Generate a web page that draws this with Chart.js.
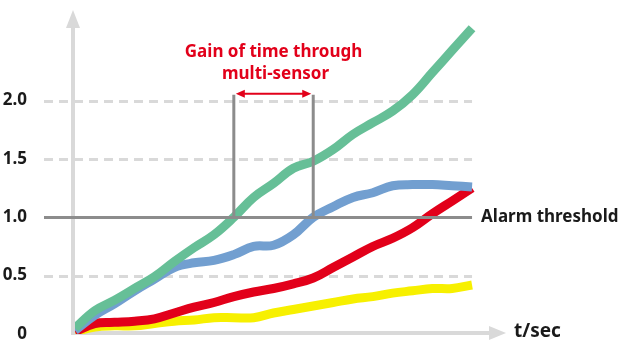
<!DOCTYPE html>
<html>
<head>
<meta charset="utf-8">
<script src="https://cdn.jsdelivr.net/npm/chart.js@4.4.1/dist/chart.umd.min.js"></script>
<style>
  html, body { margin: 0; padding: 0; background: #fff; }
  #wrap { width: 626px; height: 345px; }
</style>
</head>
<body>
<div id="wrap"><canvas id="chart"></canvas></div>
<script>
// time steps (arbitrary units along t/sec)
const times = [0, 1, 2, 3, 4, 5, 6, 7, 8, 9, 10, 11, 12, 13, 14, 15, 16, 17, 18, 19, 20];

// sensor signals
const multiSensor = [0.05, 0.20, 0.29, 0.39, 0.49, 0.62, 0.74, 0.85, 1.00, 1.17, 1.29, 1.42, 1.48, 1.58, 1.71, 1.81, 1.91, 2.05, 2.24, 2.43, 2.62];
const sensorBlue  = [0.03, 0.16, 0.26, 0.37, 0.47, 0.57, 0.61, 0.63, 0.68, 0.75, 0.76, 0.85, 1.00, 1.09, 1.17, 1.21, 1.27, 1.28, 1.28, 1.27, 1.26];
const sensorRed   = [0.02, 0.09, 0.10, 0.11, 0.13, 0.18, 0.23, 0.27, 0.32, 0.36, 0.39, 0.43, 0.48, 0.57, 0.66, 0.75, 0.82, 0.91, 1.03, 1.14, 1.25];
const sensorYellow = [0.02, 0.06, 0.07, 0.07, 0.09, 0.11, 0.12, 0.14, 0.14, 0.14, 0.18, 0.21, 0.24, 0.27, 0.30, 0.32, 0.35, 0.37, 0.39, 0.39, 0.42];

const yTicks = [0, 0.5, 1, 1.5, 2];
const yTickLabels = ['0', '0.5', '1.0', '1.5', '2.0'];

const alarmLevel = 1.0;
const alarmLabel = 'Alarm threshold';
const xAxisLabel = 't/sec';
const gainTitle = ['Gain of time through', 'multi-sensor'];
const gainTop = 2.05;

const FONT = '"Noto Sans", "Open Sans", sans-serif';

// where a signal first reaches the alarm level (linear between samples)
function crossing(values, level) {
    for (let i = 1; i < values.length; i++) {
        if (values[i - 1] < level && values[i] >= level) {
            const f = (level - values[i - 1]) / (values[i] - values[i - 1]);
            return times[i - 1] + f * (times[i] - times[i - 1]);
        }
    }
    return times[times.length - 1];
}

const gainStart = crossing(multiSensor, alarmLevel);
const gainEnd = crossing(sensorBlue, alarmLevel);

function series(values) {
    return values.map((v, i) => ({ x: times[i], y: v }));
}

const decor = {
    id: 'decor',
    beforeDatasetsDraw(chart) {
        const { ctx, chartArea, scales: { x, y } } = chart;
        const axisX = x.getPixelForValue(0) - 2;
        const axisY = y.getPixelForValue(0) - 1;
        const gridLeft = axisX - 29;
        const gridRight = x.getPixelForValue(times[times.length - 1]);

        ctx.save();
        // dashed grid lines
        ctx.strokeStyle = '#d9d9d9';
        ctx.lineWidth = 3;
        ctx.setLineDash([9, 6]);
        yTicks.forEach(v => {
            if (v === 0 || v === alarmLevel) return;
            const py = Math.round(y.getPixelForValue(v)) + 0.5;
            ctx.beginPath();
            ctx.moveTo(gridLeft, py);
            ctx.lineTo(gridRight, py);
            ctx.stroke();
        });
        ctx.setLineDash([]);

        // axes with arrow heads
        ctx.lineWidth = 4;
        ctx.fillStyle = '#d9d9d9';
        ctx.beginPath();
        ctx.moveTo(axisX, axisY + 2);
        ctx.lineTo(axisX, chartArea.top + 14);
        ctx.moveTo(axisX - 2, axisY);
        ctx.lineTo(chartArea.right - 14, axisY);
        ctx.stroke();

        ctx.beginPath();
        ctx.moveTo(axisX, chartArea.top - 3);
        ctx.lineTo(axisX + 7, chartArea.top + 15);
        ctx.lineTo(axisX - 7, chartArea.top + 15);
        ctx.closePath();
        ctx.fill();

        ctx.beginPath();
        ctx.moveTo(chartArea.right + 1, axisY);
        ctx.lineTo(chartArea.right - 16, axisY - 7);
        ctx.lineTo(chartArea.right - 16, axisY + 7);
        ctx.closePath();
        ctx.fill();

        // axis label
        ctx.fillStyle = '#1a1a1a';
        ctx.font = 'bold 19px ' + FONT;
        ctx.textAlign = 'left';
        ctx.textBaseline = 'middle';
        ctx.fillText(xAxisLabel, chartArea.right + 9, axisY - 1);
        ctx.restore();
    },
    afterDatasetsDraw(chart) {
        const { ctx, scales: { x, y } } = chart;
        const axisX = x.getPixelForValue(0) - 2;
        const gridLeft = axisX - 29;
        const gridRight = x.getPixelForValue(times[times.length - 1]);
        const alarmY = Math.round(y.getPixelForValue(alarmLevel)) + 0.5;

        ctx.save();
        ctx.strokeStyle = '#8c8c8c';
        ctx.lineWidth = 3;
        ctx.beginPath();
        ctx.moveTo(gridLeft, alarmY);
        ctx.lineTo(gridRight, alarmY);
        ctx.stroke();

        ctx.fillStyle = '#1a1a1a';
        ctx.font = 'bold 17px ' + FONT;
        ctx.textAlign = 'left';
        ctx.textBaseline = 'middle';
        ctx.fillText(alarmLabel, gridRight + 9, alarmY);

        // gain of time bracket
        const topY = y.getPixelForValue(gainTop);
        const xa = x.getPixelForValue(gainStart);
        const xb = x.getPixelForValue(gainEnd);
        ctx.beginPath();
        ctx.moveTo(xa, alarmY);
        ctx.lineTo(xa, topY);
        ctx.moveTo(xb, alarmY);
        ctx.lineTo(xb, topY);
        ctx.stroke();

        const red = '#e2001a';
        const ay = topY - 1;
        ctx.strokeStyle = red;
        ctx.fillStyle = red;
        ctx.lineWidth = 2;
        ctx.beginPath();
        ctx.moveTo(xa + 8, ay);
        ctx.lineTo(xb - 8, ay);
        ctx.stroke();
        ctx.beginPath();
        ctx.moveTo(xa + 2, ay);
        ctx.lineTo(xa + 11, ay - 4);
        ctx.lineTo(xa + 11, ay + 4);
        ctx.closePath();
        ctx.fill();
        ctx.beginPath();
        ctx.moveTo(xb - 2, ay);
        ctx.lineTo(xb - 11, ay - 4);
        ctx.lineTo(xb - 11, ay + 4);
        ctx.closePath();
        ctx.fill();

        ctx.font = 'bold 17px ' + FONT;
        ctx.textAlign = 'center';
        ctx.textBaseline = 'middle';
        const cx = (xa + xb) / 2;
        ctx.fillText(gainTitle[0], cx, ay - 42);
        ctx.fillText(gainTitle[1], cx + 2, ay - 20);
        ctx.restore();
    }
};

const lineStyle = {
    borderWidth: 9,
    pointRadius: 0,
    tension: 0.4,
    fill: false,
    borderCapStyle: 'butt',
    borderJoinStyle: 'round'
};

new Chart(document.getElementById('chart'), {
    type: 'line',
    data: {
        datasets: [
            { ...lineStyle, label: 'Multi-sensor', data: series(multiSensor), borderColor: '#66bf97' },
            { ...lineStyle, label: 'Sensor A', data: series(sensorBlue), borderColor: '#729fd0' },
            { ...lineStyle, label: 'Sensor B', data: series(sensorRed), borderColor: '#e2001a' },
            { ...lineStyle, label: 'Sensor C', data: series(sensorYellow), borderColor: '#f7f000' }
        ]
    },
    options: {
        responsive: true,
        maintainAspectRatio: false,
        animation: false,
        layout: { padding: { left: 0, right: 121, top: 13, bottom: 11 } },
        plugins: {
            legend: { display: false },
            tooltip: { enabled: false }
        },
        scales: {
            x: {
                type: 'linear',
                min: 0,
                max: 21.66,
                display: false
            },
            y: {
                min: 0,
                max: 2.75,
                afterFit(scale) {
                    scale.width = 75;
                    // tick padding is horizontal here, don't let it shrink the plot vertically
                    scale.paddingTop = 0;
                    scale.paddingBottom = 0;
                },
                afterBuildTicks(scale) { scale.ticks = yTicks.map(v => ({ value: v })); },
                grid: { display: false },
                border: { display: false },
                ticks: {
                    padding: 40,
                    color: '#1a1a1a',
                    font: { family: FONT, size: 17, weight: 'bold' },
                    callback: (value, index) => yTickLabels[index]
                }
            }
        }
    },
    plugins: [decor]
});
</script>
</body>
</html>
